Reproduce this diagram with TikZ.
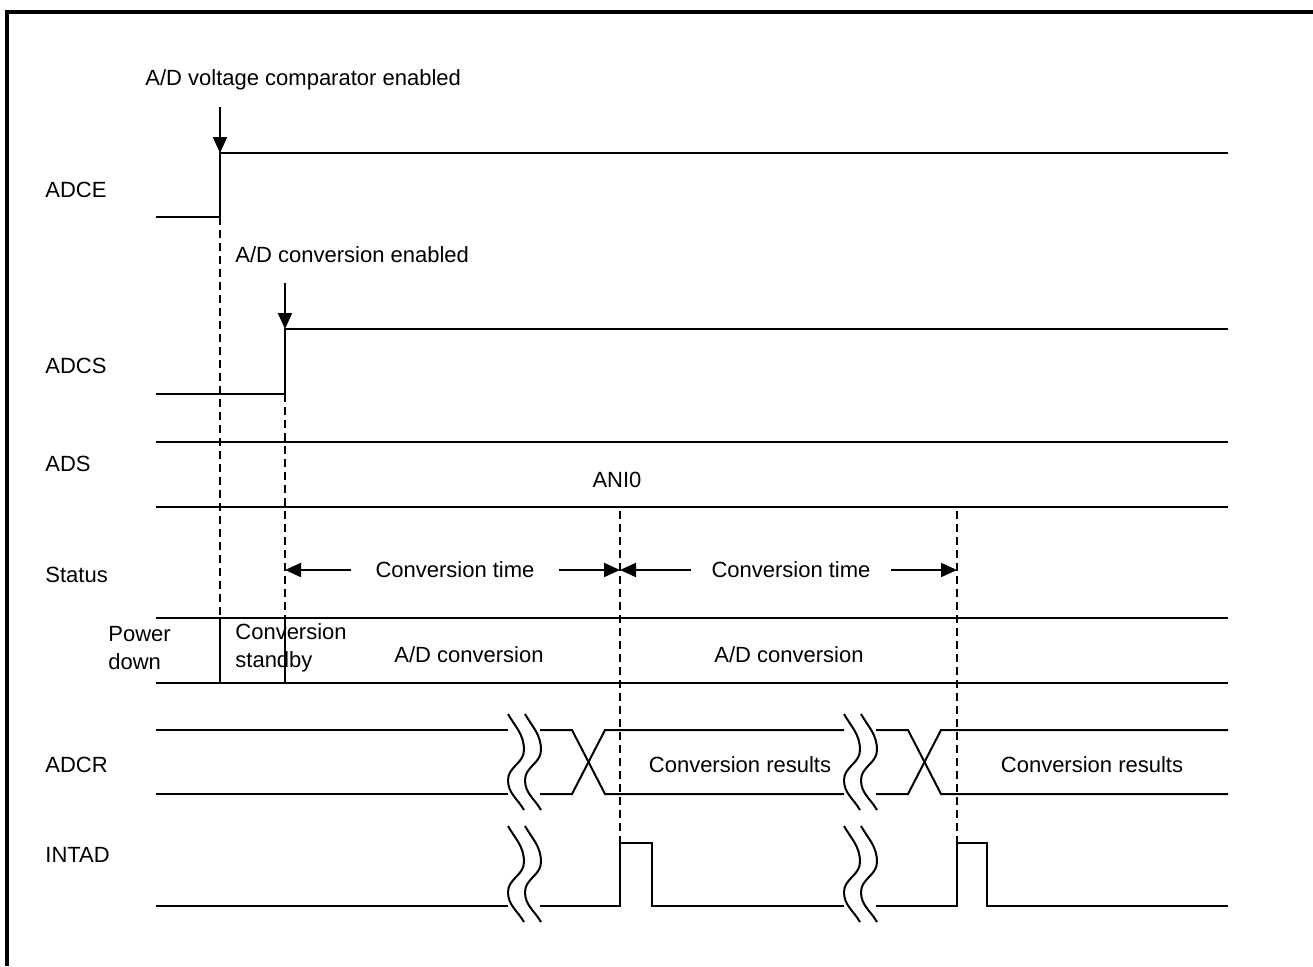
\documentclass[tikz,border=0pt]{standalone}
\usepackage{fontspec}
\setmainfont{Liberation Sans}
\usetikzlibrary{arrows.meta,positioning}
\tikzset{
  sig/.style={line width=1pt},
  guide/.style={line width=1pt,dash pattern=on 4pt off 2.5pt},
  pointer/.style={line width=1pt,-{Triangle[length=8pt,width=7pt]}},
  signame/.style={anchor=west,font=\fontsize{11}{14}\selectfont,inner sep=0pt},
  lbl/.style={font=\fontsize{11}{14}\selectfont,inner sep=0pt,align=center},
  frameline/.style={line width=1.6pt},
}
% wavy break mark: x, top y
\newcommand{\gapmark}[2]{%
  \foreach \dx in {0,17}{%
    \draw[sig] (#1+\dx,#2) to[out=-60,in=90] ++(16,36) to[out=-90,in=90] ++(-16,30)
      to[out=-90,in=120] ++(16,30);}}

\begin{document}
\begin{tikzpicture}[x=0.5pt,y=-0.5pt]
  \useasboundingbox (0,0) rectangle (1313,966);
  \draw[frameline] (7,966) -- (7,12) -- (1313,12);

  % time points
  \coordinate (tE) at (220,0);
  \coordinate (tS) at (285,0);
  \coordinate (t1) at (620,0);
  \coordinate (t2) at (957,0);

  % signal names
  \node[signame] (adce)   at (45,190) {ADCE};
  \node[signame] (adcs)   at (45,366) {ADCS};
  \node[signame] (ads)    at (45,464) {ADS};
  \node[signame] (status) at (45,575) {Status};
  \node[signame] (adcr)   at (45,765) {ADCR};
  \node[signame] (intad)  at (45,855) {INTAD};

  % ADCE
  \node[signame] (vcmp) at (145,80) {A/D voltage comparator enabled};
  \coordinate (adceUp) at (220,153);
  \draw[sig] (156,217) -- (220,217) -- (adceUp) -- (1228,153);
  \draw[pointer] ([yshift=23pt]adceUp) -- (adceUp);

  % ADCS
  \node[signame] (cven) at (235,255) {A/D conversion enabled};
  \coordinate (adcsUp) at (285,329);
  \draw[sig] (156,394) -- (285,394) -- (adcsUp) -- (1228,329);
  \draw[pointer] ([yshift=23pt]adcsUp) -- (adcsUp);

  % ADS
  \draw[sig] (156,442) -- (1228,442);
  \draw[sig] (156,507) -- (1228,507);
  \node[lbl] (ani) at (617,480) {ANI0};

  % guides
  \draw[guide] (220,217) -- (220,618);
  \draw[guide] (285,394) -- (285,618);
  \draw[guide] (620,511) -- (620,853);
  \draw[guide] (957,511) -- (957,853);

  % Status
  \node[lbl,inner xsep=12pt] (ct1) at (455,570) {Conversion time};
  \draw[pointer] (ct1.west) -- (ct1.west -| tS);
  \draw[pointer] (ct1.east) -- (ct1.east -| t1);
  \node[lbl,inner xsep=10pt] (ct2) at (791,570) {Conversion time};
  \draw[pointer] (ct2.west) -- (ct2.west -| t1);
  \draw[pointer] (ct2.east) -- (ct2.east -| t2);
  \draw[sig] (156,618) -- (1228,618);
  \draw[sig] (156,683) -- (1228,683);
  \draw[sig] (220,618) -- (220,683);
  \draw[sig] (285,618) -- (285,683);
  \node[signame,align=left] (pdown) at (108,648) {Power\\down};
  \node[signame,align=left] (stby) at (235,648) {Conversion\\standby};
  \node[lbl] (conv1) at (469,655) {A/D conversion};
  \node[lbl] (conv2) at (789,655) {A/D conversion};

  % ADCR
  \draw[sig] (156,730) -- (508,730);
  \draw[sig] (156,794) -- (508,794);
  \draw[sig] (540,730) -- (572,730) -- (605,794) -- (844,794);
  \draw[sig] (540,794) -- (572,794) -- (605,730) -- (844,730);
  \draw[sig] (876,730) -- (908,730) -- (941,794) -- (1228,794);
  \draw[sig] (876,794) -- (908,794) -- (941,730) -- (1228,730);
  \node[lbl] (res1) at (740,765) {Conversion results};
  \node[lbl] (res2) at (1092,765) {Conversion results};
  \gapmark{508}{714}
  \gapmark{844}{714}

  % INTAD
  \draw[sig] (156,906) -- (508,906);
  \draw[sig] (540,906) -- (620,906) -- (620,843) -- (652,843) -- (652,906) -- (844,906);
  \draw[sig] (876,906) -- (957,906) -- (957,843) -- (987,843) -- (987,906) -- (1228,906);
  \gapmark{508}{826}
  \gapmark{844}{826}
\end{tikzpicture}
\end{document}
